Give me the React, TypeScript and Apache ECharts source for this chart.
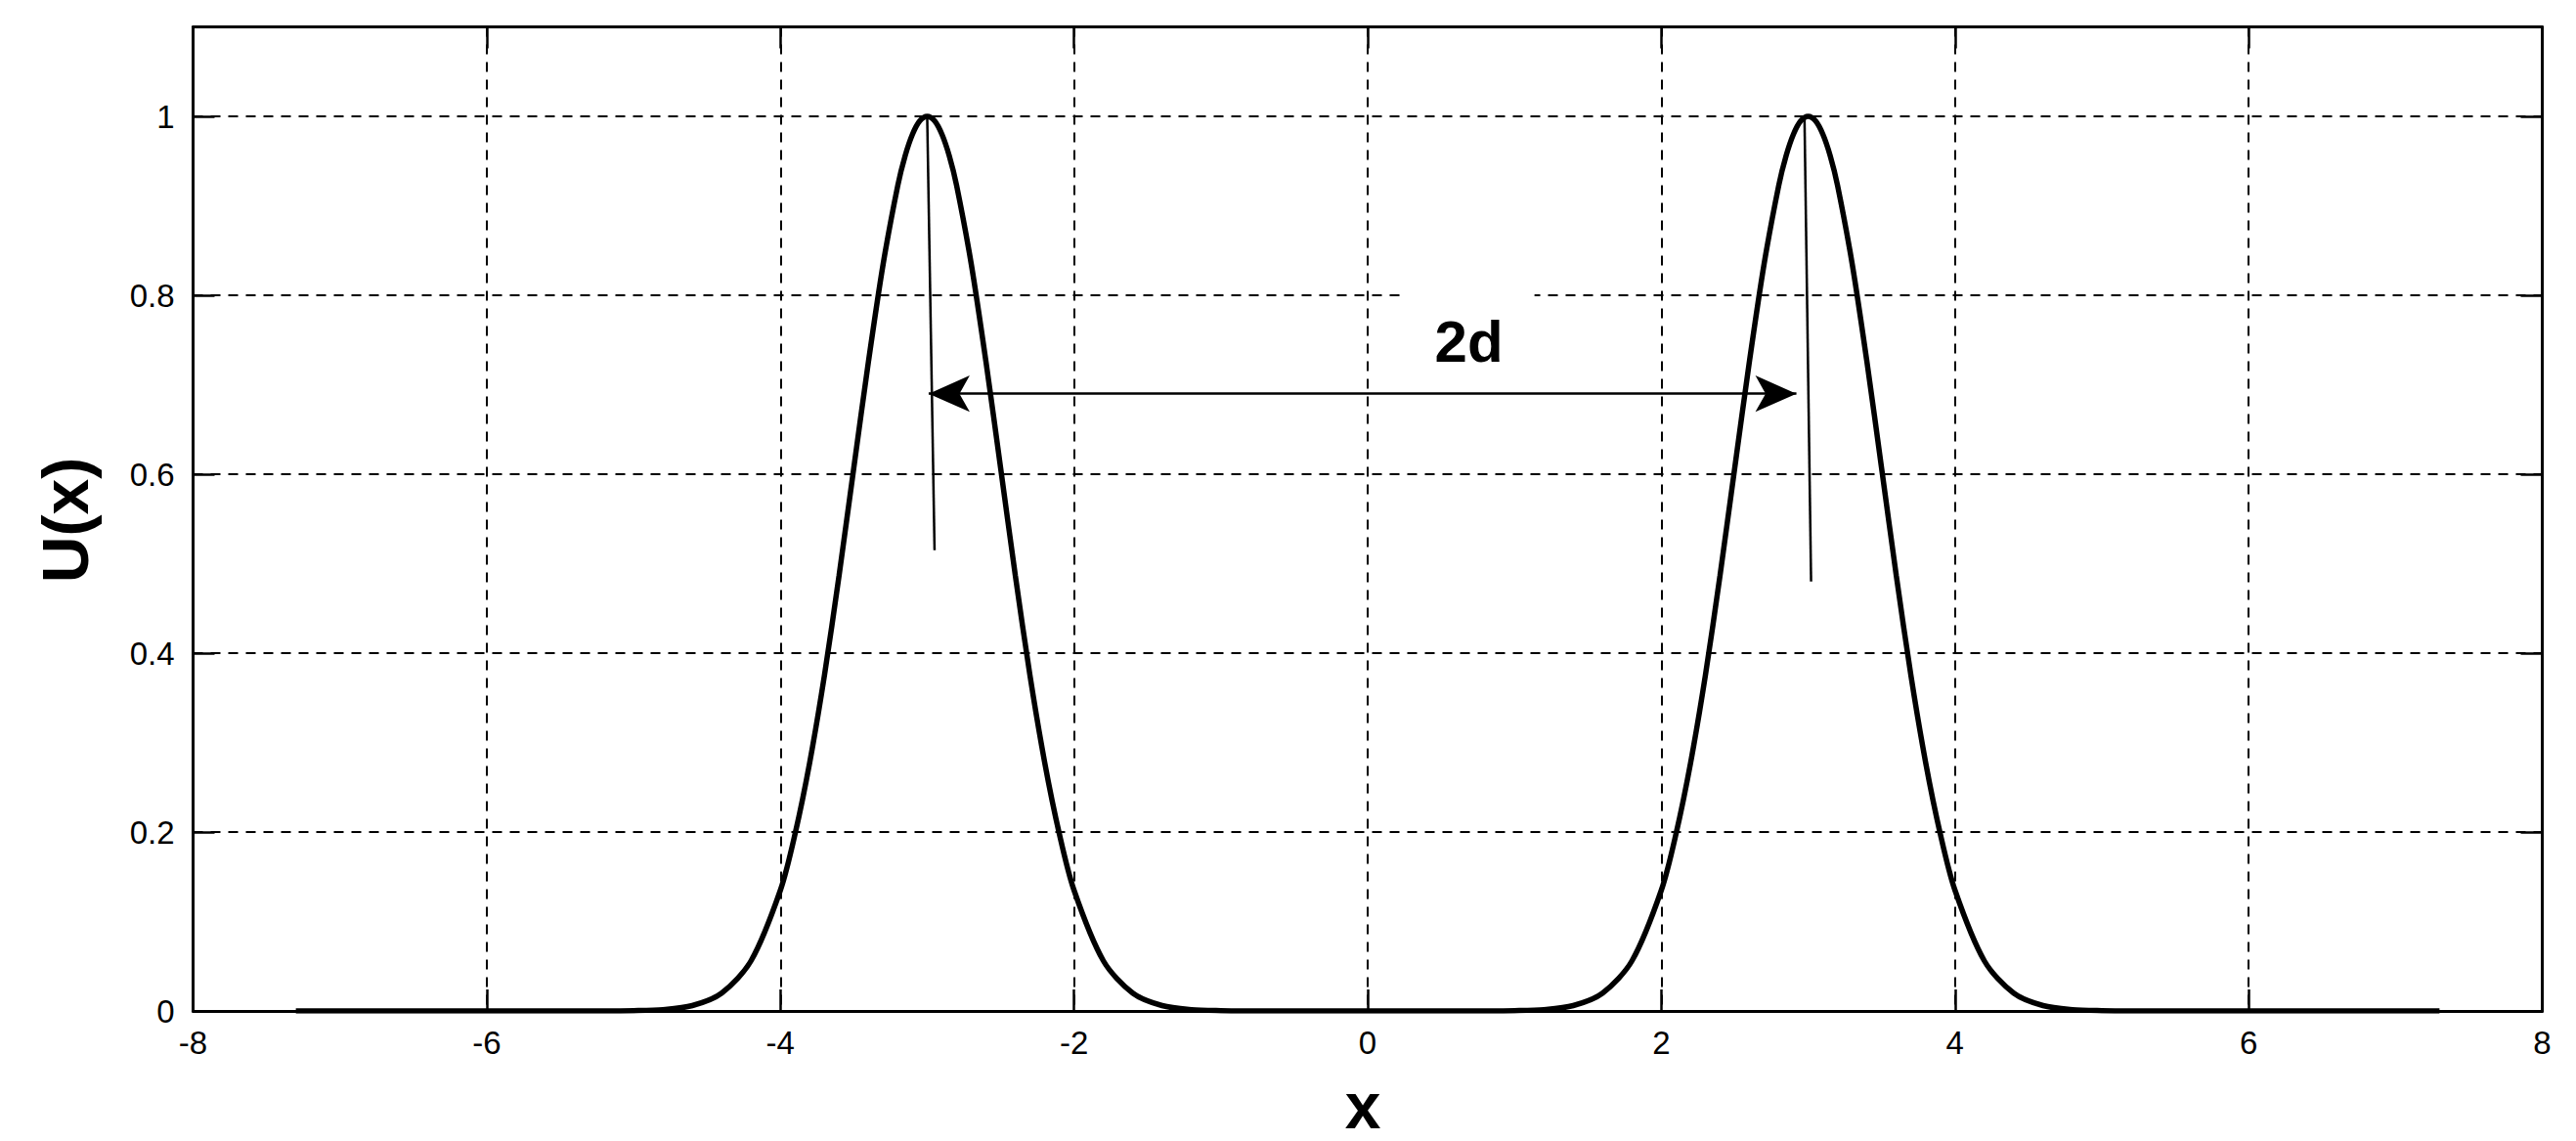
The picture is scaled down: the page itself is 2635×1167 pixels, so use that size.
import React, { useEffect, useRef } from 'react';
import * as echarts from 'echarts';

// Curve U(x): values (two peaks of height 1 at x = -3 and x = 3)
const curveX = [
  -7.3, -6.0, -5.2, -5.0, -4.8, -4.6, -4.4, -4.2, -4.0, -3.9, -3.8, -3.7, -3.6, -3.5, -3.4, -3.3, -3.2, -3.15, -3.1, -3.05,
  -3.0, -2.95, -2.9, -2.85, -2.8, -2.7, -2.6, -2.5, -2.4, -2.3, -2.2, -2.1, -2.0, -1.8, -1.6, -1.4, -1.2, -1.0, -0.8,
  0.0,
  0.8, 1.0, 1.2, 1.4, 1.6, 1.8, 2.0, 2.1, 2.2, 2.3, 2.4, 2.5, 2.6, 2.7, 2.8, 2.85, 2.9, 2.95,
  3.0, 3.05, 3.1, 3.15, 3.2, 3.3, 3.4, 3.5, 3.6, 3.7, 3.8, 3.9, 4.0, 4.2, 4.4, 4.6, 4.8, 5.0, 5.2, 6.0, 7.3,
];
const curveU = [
  0, 0, 0, 0.0003, 0.0015, 0.006, 0.02, 0.056, 0.135, 0.198, 0.278, 0.375, 0.487, 0.607, 0.726, 0.835, 0.923, 0.956, 0.98, 0.995,
  1.0, 0.995, 0.98, 0.956, 0.923, 0.835, 0.726, 0.607, 0.487, 0.375, 0.278, 0.198, 0.135, 0.056, 0.02, 0.006, 0.0015, 0.0003, 0,
  0,
  0, 0.0003, 0.0015, 0.006, 0.02, 0.056, 0.135, 0.198, 0.278, 0.375, 0.487, 0.607, 0.726, 0.835, 0.923, 0.956, 0.98, 0.995,
  1.0, 0.995, 0.98, 0.956, 0.923, 0.835, 0.726, 0.607, 0.487, 0.375, 0.278, 0.198, 0.135, 0.056, 0.02, 0.006, 0.0015, 0.0003, 0, 0, 0,
];

// Marker lines dropped from the peaks
const leftMarkX = [-3.0, -2.95];
const leftMarkU = [1.0, 0.515];
const rightMarkX = [2.975, 3.02];
const rightMarkU = [1.0, 0.48];

// Double arrow "2d"
const arrowX = [-2.99, 2.92];
const arrowU = [0.69, 0.69];
const labelX = 0.69;
const labelU = 0.748;
const labelText = '2d';

// Axes
const xMin = -8, xMax = 8, xStep = 2;
const yMin = 0, yMax = 1.1, yStep = 0.2;
const xTitle = 'x';
const yTitle = 'U(x)';

const FONT = '"Liberation Sans", Arial, sans-serif';

export default function App() {
  const ref = useRef<HTMLDivElement>(null);
  useEffect(() => {
    if (!ref.current) return;
    const chart = echarts.init(ref.current, null, { renderer: 'svg' });
    const dash = { color: '#000', width: 2, type: [10, 8] as any };
    const tick = { inside: true, length: 22, lineStyle: { color: '#000', width: 2.5 } };
    const axisLine = { show: true, onZero: false, lineStyle: { color: '#000', width: 3 } };
    chart.setOption({
      animation: false,
      backgroundColor: '#fff',
      grid: { left: 197.5, right: 34.5, top: 27.5, bottom: 133, containLabel: false },
      xAxis: [
        {
          type: 'value', min: xMin, max: xMax, interval: xStep, position: 'bottom',
          axisLine, axisTick: tick,
          axisLabel: { color: '#000', fontSize: 33, fontFamily: FONT, margin: 16 },
          splitLine: { show: true, lineStyle: dash },
        },
        {
          type: 'value', min: xMin, max: xMax, interval: xStep, position: 'top',
          axisLine, axisTick: tick, axisLabel: { show: false }, splitLine: { show: false },
        },
      ],
      yAxis: [
        {
          type: 'value', min: yMin, max: yMax, interval: yStep, position: 'left',
          axisLine, axisTick: tick,
          axisLabel: { color: '#000', fontSize: 33, fontFamily: FONT, margin: 19, showMaxLabel: false },
          splitLine: { show: true, lineStyle: dash },
        },
        {
          type: 'value', min: yMin, max: yMax, interval: yStep, position: 'right',
          axisLine, axisTick: tick, axisLabel: { show: false }, splitLine: { show: false },
        },
      ],
      graphic: [
        {
          type: 'text', x: 67, y: 532, rotation: Math.PI / 2,
          style: { text: yTitle, fontSize: 66, fontWeight: 'bold', fontFamily: FONT, fill: '#000', align: 'center', verticalAlign: 'middle' },
        },
        {
          type: 'text', x: 1394, y: 1131,
          style: { text: xTitle, fontSize: 66, fontWeight: 'bold', fontFamily: FONT, fill: '#000', align: 'center', verticalAlign: 'middle' },
        },
      ],
      series: [
        {
          type: 'line', name: 'U', symbol: 'none', z: 4, smooth: 0.3,
          data: curveX.map((x, i) => [x, curveU[i]]),
          lineStyle: { color: '#000', width: 5.5 },
          silent: true,
        },
        {
          type: 'line', name: 'markL', symbol: 'none', z: 4,
          data: leftMarkX.map((x, i) => [x, leftMarkU[i]]),
          lineStyle: { color: '#000', width: 2.5 },
          silent: true,
        },
        {
          type: 'line', name: 'markR', symbol: 'none', z: 4,
          data: rightMarkX.map((x, i) => [x, rightMarkU[i]]),
          lineStyle: { color: '#000', width: 2.5 },
          silent: true,
        },
        {
          type: 'scatter', name: 'label', z: 3,
          data: [[labelX, labelU]],
          symbolSize: 1, itemStyle: { color: 'rgba(255,255,255,0)' },
          label: {
            show: true, position: 'inside', formatter: labelText,
            fontSize: 60, fontWeight: 'bold', fontFamily: FONT, color: '#000', opacity: 1,
            textBorderWidth: 0, textShadowBlur: 0,
            lineHeight: 60, backgroundColor: '#fff', padding: [28, 32, 22, 32],
          },
          silent: true,
        },
        {
          type: 'line', name: 'arrow', symbol: 'none', z: 5,
          data: arrowX.map((x, i) => [x, arrowU[i]]),
          lineStyle: { color: '#000', width: 2.5, opacity: 0 },
          silent: true,
          markLine: {
            silent: true,
            symbol: ['arrow', 'arrow'],
            symbolSize: [28, 42],
            label: { show: false },
            lineStyle: { color: '#000', width: 2.5, type: 'solid' },
            emphasis: { disabled: true },
            data: [[{ coord: [arrowX[0], arrowU[0]] }, { coord: [arrowX[1], arrowU[1]] }]],
          },
        },
      ],
    });
    return () => chart.dispose();
  }, []);
  return <div ref={ref} style={{ position: 'fixed', left: 0, top: 0, width: 2635, height: 1167 }} />;
}
